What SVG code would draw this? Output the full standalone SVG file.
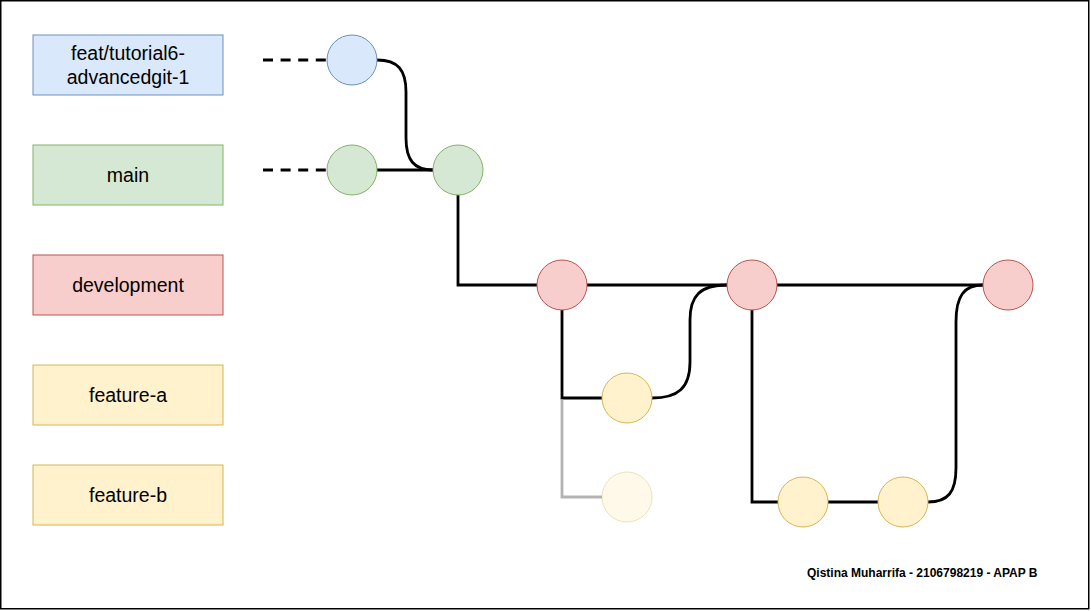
<svg xmlns="http://www.w3.org/2000/svg" width="1091" height="611" viewBox="0 0 1091 611">
<style>
.lbl{font-family:"Liberation Sans",Arial,Helvetica,sans-serif;font-size:19.5px;fill:#000;text-anchor:middle}
.edge{fill:none;stroke:#000;stroke-width:2.8}
.blue{fill:#dae8fc;stroke:#6c8ebf;stroke-width:1}
.green{fill:#d5e8d4;stroke:#82b366;stroke-width:1}
.red{fill:#f8cecc;stroke:#b85450;stroke-width:1}
.yellow{fill:#fff2cc;stroke:#d6b656;stroke-width:1}
</style>
<rect x="0" y="0" width="1091" height="611" fill="#ffffff"/>
<rect x="0.75" y="0.75" width="1088" height="608" fill="none" stroke="#000" stroke-width="1.5"/>
<g id="connectors">
<path class="edge" d="M263,60 L327,60" stroke-dasharray="10 7.6"/>
<path class="edge" d="M263,170 L327,170" stroke-dasharray="10 7.6"/>
<path class="edge" d="M377,60 C398,60 406,70 406,92 L406,138 C406,160 414,170 433,170"/>
<path class="edge" d="M377,170 L433,170"/>
<path class="edge" d="M458,195 L458,285 L537,285"/>
<path class="edge" d="M587,285 L727,285"/>
<path class="edge" d="M777,285 L983,285"/>
<path class="edge" d="M562,310 L562,398 L602,398"/>
<path fill="none" stroke="#b3b3b3" stroke-width="2.8" d="M562,399.4 L562,497 L602,497"/>
<path class="edge" d="M652,398 C678,398 690,388 690,362 L690,320 C690,296 700,285 727,285"/>
<path class="edge" d="M752,310 L752,502 L778,502"/>
<path class="edge" d="M828,502 L878,502"/>
<path class="edge" d="M928,502 C948,502 956,492 956,468 L956,322 C956,296 964,285 983,285"/>
</g>
<g id="label-feat">
<rect x="33" y="35" width="190" height="60" class="blue"/>
<text class="lbl" x="128" y="60">feat/tutorial6-</text>
<text class="lbl" x="128" y="84">advancedgit-1</text>
</g>
<g id="label-main">
<rect x="33" y="145" width="190" height="60" class="green"/>
<text class="lbl" x="128" y="182">main</text>
</g>
<g id="label-development">
<rect x="33" y="255" width="190" height="60" class="red"/>
<text class="lbl" x="128" y="292">development</text>
</g>
<g id="label-feature-a">
<rect x="33" y="365" width="190" height="60" class="yellow"/>
<text class="lbl" x="128" y="402">feature-a</text>
</g>
<g id="label-feature-b">
<rect x="33" y="465" width="190" height="60" class="yellow"/>
<text class="lbl" x="128" y="502">feature-b</text>
</g>
<g id="commit-feat-1"><circle cx="352" cy="60" r="25" class="blue"/></g>
<g id="commit-main-1"><circle cx="352" cy="170" r="25" class="green"/></g>
<g id="commit-main-2"><circle cx="458" cy="170" r="25" class="green"/></g>
<g id="commit-dev-1"><circle cx="562" cy="285" r="25" class="red"/></g>
<g id="commit-dev-2"><circle cx="752" cy="285" r="25" class="red"/></g>
<g id="commit-dev-3"><circle cx="1008" cy="285" r="25" class="red"/></g>
<g id="commit-fa-1"><circle cx="627" cy="398" r="25" class="yellow"/></g>
<g id="commit-fb-ghost"><circle cx="627" cy="497" r="25" class="yellow" opacity="0.4"/></g>
<g id="commit-fb-1"><circle cx="803" cy="502" r="25" class="yellow"/></g>
<g id="commit-fb-2"><circle cx="903" cy="502" r="25" class="yellow"/></g>
<g id="footer">
<text x="807" y="577" font-family="'Liberation Sans',Arial,Helvetica,sans-serif" font-size="12" font-weight="bold" fill="#000">Qistina Muharrifa - 2106798219 - APAP B</text>
</g>
</svg>
